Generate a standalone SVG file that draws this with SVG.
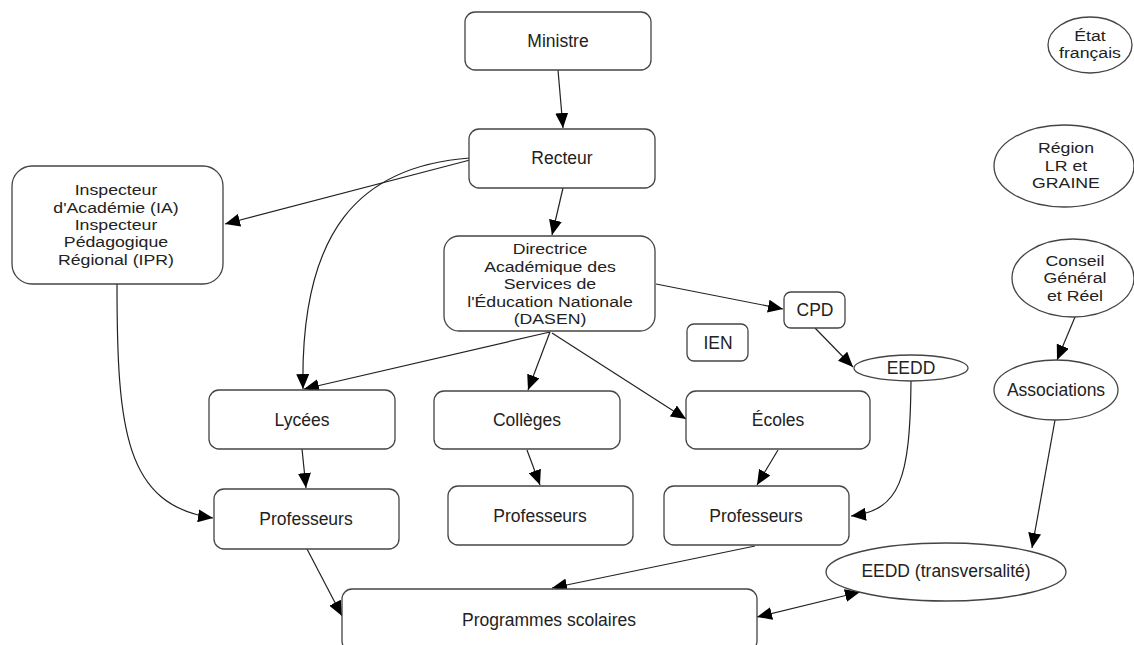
<svg xmlns="http://www.w3.org/2000/svg" width="1134" height="645" viewBox="0 0 1134 645">
<style>
.n rect, .n ellipse { fill: #fff; stroke: #444; stroke-width: 1.3; }
text { font-family: "Liberation Sans", Arial, sans-serif; font-size: 17.5px; fill: #222; text-anchor: middle; dominant-baseline: central; }
.ml text { font-size: 15px; }
.e path { fill: none; stroke: #222; stroke-width: 1.2; marker-end: url(#ah); }
</style>
<defs>
<marker id="ah" markerUnits="userSpaceOnUse" markerWidth="16" markerHeight="13" refX="15" refY="6.5" orient="auto-start-reverse">
<path d="M0,0 L15,6.5 L0,13 z" fill="#000"/>
</marker>
</defs>
<rect width="1134" height="645" fill="#fff"/>
<g class="e">
<path d="M558,70 L563,128"/>
<path d="M470,160 L225,224"/>
<path d="M470,158 C360,166 300,230 303,389"/>
<path d="M563,188 L552,235"/>
<path d="M117,284 C117,430 125,505 213,518"/>
<path d="M656,284 L783,309"/>
<path d="M815,328 L853,367"/>
<path d="M550,332 L304,389"/>
<path d="M550,332 L528,390"/>
<path d="M552,333 L686,419"/>
<path d="M302,449 L306,488"/>
<path d="M527,450 L540,485"/>
<path d="M778,450 L757,485"/>
<path d="M911,381 C910,480 900,510 851,516"/>
<path d="M1075,317 L1057,360"/>
<path d="M1055,420 L1032,548"/>
<path d="M307,549 L342,616"/>
<path d="M755,546 L552,588"/>
<path d="M757,617 L860,592" marker-start="url(#ah)"/>
</g>
<g id="ministre" class="n"><rect x="465" y="12" width="186" height="58" rx="10"/><text x="558" y="41">Ministre</text></g>
<g id="recteur" class="n"><rect x="469" y="129" width="186" height="59" rx="10"/><text x="562" y="158">Recteur</text></g>
<g id="ia" class="n"><rect x="12" y="166" width="211" height="118" rx="20"/>
<g class="ml" transform="translate(116,0) scale(1.18,1) translate(-116,0)">
<text x="116" y="190">Inspecteur</text><text x="116" y="208">d'Académie (IA)</text><text x="116" y="225">Inspecteur</text><text x="116" y="242">Pédagogique</text><text x="116" y="260">Régional (IPR)</text></g></g>
<g id="dasen" class="n"><rect x="444" y="236" width="211" height="95" rx="15"/>
<g class="ml" transform="translate(550,0) scale(1.18,1) translate(-550,0)">
<text x="550" y="249">Directrice</text><text x="550" y="267">Académique des</text><text x="550" y="284">Services de</text><text x="550" y="302">l'Éducation Nationale</text><text x="550" y="319">(DASEN)</text></g></g>
<g id="cpd" class="n"><rect x="784" y="292" width="61" height="36" rx="7"/><text x="815" y="310">CPD</text></g>
<g id="ien" class="n"><rect x="687" y="324" width="61" height="37" rx="7"/><text x="718" y="343">IEN</text></g>
<g id="eedd" class="n"><ellipse cx="911" cy="368" rx="57" ry="13"/><text x="911" y="368">EEDD</text></g>
<g id="lycees" class="n"><rect x="209" y="390" width="186" height="59" rx="10"/><text x="302" y="420">Lycées</text></g>
<g id="colleges" class="n"><rect x="434" y="391" width="186" height="58" rx="10"/><text x="527" y="420">Collèges</text></g>
<g id="ecoles" class="n"><rect x="686" y="391" width="184" height="58" rx="10"/><text x="778" y="420">Écoles</text></g>
<g id="prof1" class="n"><rect x="214" y="489" width="185" height="60" rx="10"/><text x="306" y="519">Professeurs</text></g>
<g id="prof2" class="n"><rect x="448" y="486" width="185" height="59" rx="10"/><text x="540" y="516">Professeurs</text></g>
<g id="prof3" class="n"><rect x="664" y="486" width="185" height="59" rx="10"/><text x="756" y="516">Professeurs</text></g>
<g id="programmes" class="n"><rect x="342" y="589" width="415" height="62" rx="10"/><text x="549" y="620">Programmes scolaires</text></g>
<g id="eedd-transv" class="n"><ellipse cx="946" cy="572" rx="120" ry="29"/><text x="946" y="571">EEDD (transversalité)</text></g>
<g id="etat" class="n"><ellipse cx="1090" cy="45" rx="42" ry="28"/>
<g class="ml" transform="translate(1090,0) scale(1.18,1) translate(-1090,0)"><text x="1090" y="36">État</text><text x="1090" y="53">français</text></g></g>
<g id="region" class="n"><ellipse cx="1064" cy="166" rx="70" ry="41"/>
<g class="ml" transform="translate(1066,0) scale(1.18,1) translate(-1066,0)"><text x="1066" y="148">Région</text><text x="1066" y="166">LR et</text><text x="1066" y="183">GRAINE</text></g></g>
<g id="conseil" class="n"><ellipse cx="1073" cy="278" rx="61" ry="39"/>
<g class="ml" transform="translate(1075,0) scale(1.18,1) translate(-1075,0)"><text x="1075" y="261">Conseil</text><text x="1075" y="278">Général</text><text x="1075" y="296">et Réel</text></g></g>
<g id="associations" class="n"><ellipse cx="1056" cy="390" rx="62" ry="30"/><text x="1056" y="390">Associations</text></g>
</svg>
